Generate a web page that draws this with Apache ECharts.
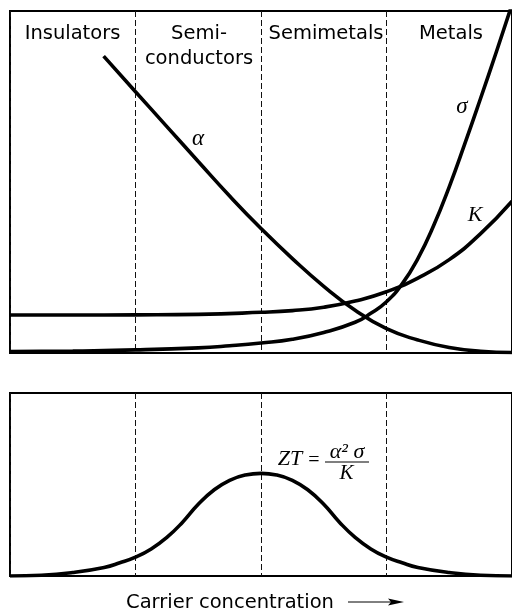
<!DOCTYPE html>
<html>
<head>
<meta charset="utf-8">
<script src="https://cdn.jsdelivr.net/npm/echarts@6/dist/echarts.min.js"></script>
<style>html,body{margin:0;padding:0;background:#fff;}#c{width:512px;height:612px;}</style>
</head>
<body>
<div id="c"></div>
<script>
// Regions (x axis in region units 0..4)
const regions = ['Insulators', 'Semi-\nconductors', 'Semimetals', 'Metals'];

// Seebeck coefficient alpha
const alphaX = [0.746, 1.0, 1.25, 1.5, 1.75, 2.0, 2.25, 2.5, 2.75, 3.0, 3.25, 3.5, 3.75, 4.0];
const alphaY = [86.8, 76.4, 66.2, 56.0, 45.9, 36.4, 27.6, 19.5, 12.5, 7.1, 3.8, 1.6, 0.5, 0.15];

// Electrical conductivity sigma
const sigmaX = [0, 0.5, 1.0, 1.5, 1.75, 2.0, 2.25, 2.5, 2.75, 2.875, 3.0, 3.125, 3.25, 3.375, 3.5, 3.625, 3.75, 3.875, 4.0];
const sigmaY = [0.4, 0.6, 0.9, 1.5, 2.1, 2.9, 4.0, 6.0, 9.0, 11.6, 15.0, 20.2, 27.6, 37.2, 48.6, 61.3, 74.5, 88.0, 101.9];

// Thermal conductivity K
const kX = [0, 0.5, 1.0, 1.5, 2.0, 2.25, 2.5, 2.75, 3.0, 3.25, 3.5, 3.75, 4.0];
const kY = [11.1, 11.1, 11.15, 11.3, 11.9, 12.4, 13.4, 15.2, 17.9, 21.9, 27.3, 34.9, 44.4];

// Figure of merit ZT
const ztX = [0, 0.25, 0.5, 0.75, 0.875, 1.0, 1.125, 1.25, 1.375, 1.5, 1.625, 1.75, 1.875, 2.0,
             2.125, 2.25, 2.375, 2.5, 2.625, 2.75, 2.875, 3.0, 3.125, 3.25, 3.5, 3.75, 4.0];
const ztY = [0, 0.4, 1.9, 4.7, 7.2, 10.3, 14.8, 21.1, 29.4, 39.2, 47.0, 52.3, 55.2, 56.1,
             55.2, 52.3, 47.0, 39.2, 29.4, 21.1, 14.8, 10.3, 7.2, 4.7, 1.9, 0.4, 0];

const xLabel = 'Carrier concentration';

function pairs(xs, ys) { return xs.map((x, i) => [x, ys[i]]); }

const sans = 'DejaVu Sans';
const serif = 'Liberation Serif';

const chart = echarts.init(document.getElementById('c'), null, {renderer: 'canvas'});

const xAxisBase = {
  type: 'value', min: 0, max: 4, interval: 1,
  axisLine: {show: false}, axisTick: {show: false}, axisLabel: {show: false},
  splitLine: {show: true, lineStyle: {color: '#111', width: 1, type: [6, 3]}}
};
const yAxisBase = {
  type: 'value', min: 0, max: 100,
  axisLine: {show: false}, axisTick: {show: false}, axisLabel: {show: false},
  splitLine: {show: false}
};
const lineBase = {
  type: 'line', showSymbol: false, symbol: 'none', smooth: 0.5,
  lineStyle: {color: '#000', width: 3.6}, silent: true
};

const regionCenters = [72.5, 199, 326, 451];

const graphics = [];
regions.forEach((r, i) => {
  const lines = r.split('\n');
  lines.forEach((t, j) => {
    graphics.push({type: 'text', x: regionCenters[i], y: 33.5 + j * 25,
      style: {text: t, font: '19.5px "' + sans + '"', fill: '#000', align: 'center', verticalAlign: 'middle'}});
  });
});
function mathText(t, x, y, size) {
  return {type: 'text', x: x, y: y,
    style: {text: t, font: 'italic ' + size + 'px "' + serif + '"', fill: '#000', align: 'center', verticalAlign: 'middle'}};
}
graphics.push(mathText('α', 198, 139, 23));
graphics.push(mathText('σ', 462, 107, 23));
graphics.push(mathText('K', 475, 215, 22));
// ZT formula
graphics.push(mathText('ZT', 290, 459, 22));
graphics.push({type: 'text', x: 314, y: 461,
  style: {text: '=', font: '20px "' + serif + '"', fill: '#000', align: 'center', verticalAlign: 'middle'}});
graphics.push(mathText('α² σ', 347, 452, 22));
graphics.push({type: 'line', shape: {x1: 325, y1: 462, x2: 369, y2: 462}, style: {stroke: '#000', lineWidth: 1.2}});
graphics.push(mathText('K', 346.5, 473, 21));
// x label and arrow
graphics.push({type: 'text', x: 230, y: 603,
  style: {text: xLabel, font: '19.5px "' + sans + '"', fill: '#000', align: 'center', verticalAlign: 'middle'}});
graphics.push({type: 'line', shape: {x1: 348, y1: 602, x2: 396, y2: 602}, style: {stroke: '#000', lineWidth: 1}});
graphics.push({type: 'polygon', shape: {points: [[388, 598.5], [404, 602], [388, 605.5], [391, 602]]}, style: {fill: '#000'}});

chart.setOption({
  animation: false,
  backgroundColor: '#fff',
  grid: [
    {left: 10, top: 11, width: 504, height: 342, show: true, borderColor: '#000', borderWidth: 2, backgroundColor: 'transparent'},
    {left: 10, top: 393, width: 504, height: 183, show: true, borderColor: '#000', borderWidth: 2, backgroundColor: 'transparent'}
  ],
  xAxis: [Object.assign({gridIndex: 0}, xAxisBase), Object.assign({gridIndex: 1}, xAxisBase)],
  yAxis: [Object.assign({gridIndex: 0}, yAxisBase), Object.assign({gridIndex: 1}, yAxisBase)],
  series: [
    Object.assign({}, lineBase, {name: 'alpha', xAxisIndex: 0, yAxisIndex: 0, data: pairs(alphaX, alphaY)}),
    Object.assign({}, lineBase, {name: 'sigma', xAxisIndex: 0, yAxisIndex: 0, data: pairs(sigmaX, sigmaY)}),
    Object.assign({}, lineBase, {name: 'K', xAxisIndex: 0, yAxisIndex: 0, data: pairs(kX, kY)}),
    Object.assign({}, lineBase, {name: 'ZT', xAxisIndex: 1, yAxisIndex: 1, data: pairs(ztX, ztY)})
  ],
  graphic: graphics
});
</script>
</body>
</html>
